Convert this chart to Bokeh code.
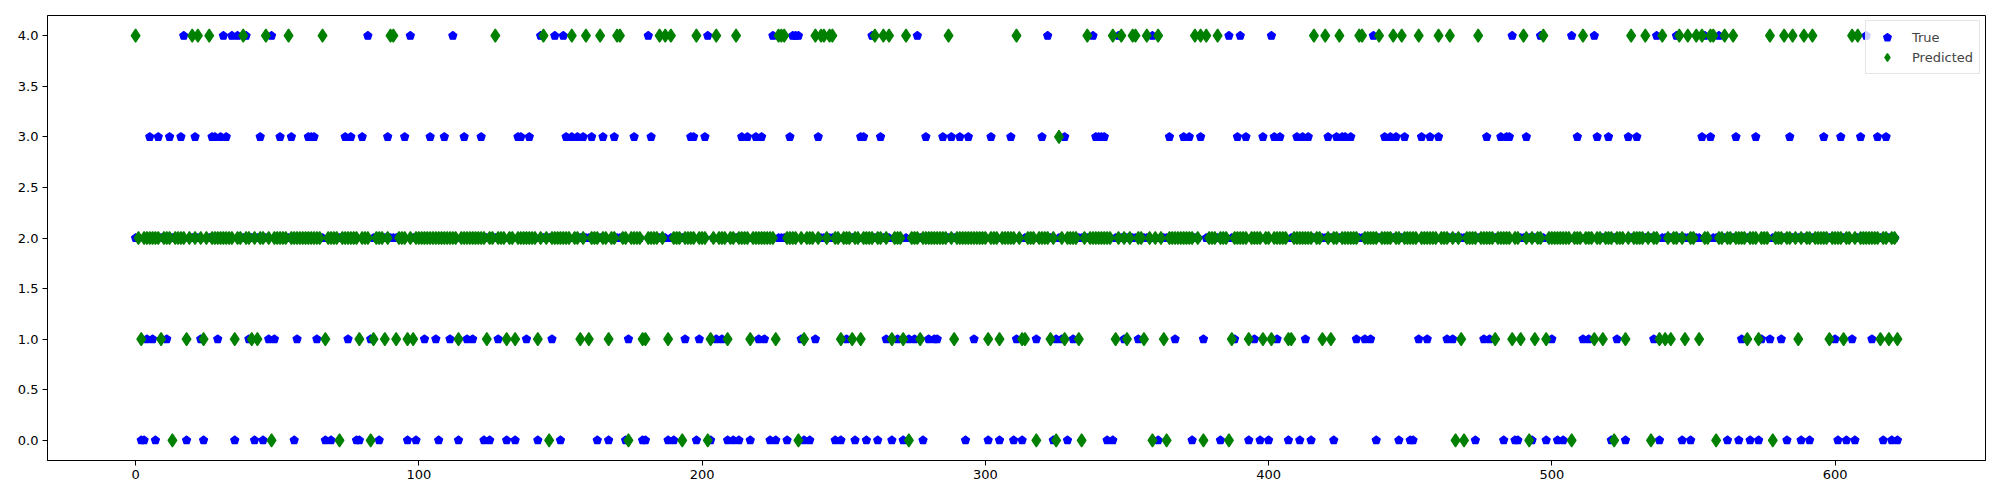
from bokeh.plotting import figure
from bokeh.models import Range1d, Legend, LegendItem, FixedTicker, ColumnDataSource, PrintfTickFormatter
from bokeh.embed import file_html
from bokeh.resources import INLINE

N = 623  # samples 0..622

# indices (sample number) per class; all others are class 2
true_class4 = [17, 31, 34, 36, 39, 48, 82, 97, 112, 143, 148, 151, 181,
               202, 225, 232, 233, 234, 260, 276, 322, 338, 347, 359, 386, 390, 401,
               437, 486, 496, 507, 515, 537, 544, 554, 559, 611]
true_class3 = [5, 8, 12, 16, 21, 27, 28, 30, 32, 44, 51, 55, 61, 62, 63, 74, 76, 80, 89, 95,
               104, 109, 116, 122, 135, 136, 139, 152, 154, 156, 158, 161, 165, 169, 176, 182,
               196, 197, 201, 214, 216, 219, 221, 231, 241, 256, 257, 263, 279, 285, 288, 291,
               294, 302, 309, 320, 328, 339, 340, 341, 342, 365, 370, 372, 376, 389, 392, 398,
               402, 404, 410, 412, 414, 421, 424, 426, 427, 429, 441, 443, 445, 448, 454, 457,
               460, 477, 482, 484, 485, 491, 509, 516, 520, 527, 530, 553, 556, 565, 572, 584,
               596, 602, 609, 615, 618]
true_class1 = [4, 6, 11, 23, 29, 40, 47, 49, 57, 64, 75, 83, 102, 106, 111, 117, 119, 128, 138,
               147, 174, 194, 199, 205, 207, 220, 222, 235, 240, 251, 265, 269, 273, 275, 280,
               282, 283, 296, 311, 318, 325, 327, 331, 349, 354, 367, 377, 388, 395, 403, 413,
               431, 434, 436, 453, 456, 463, 465, 476, 478, 500, 511, 513, 523, 536, 567, 574,
               577, 581, 600, 606, 613]
true_class0 = [2, 3, 7, 18, 24, 35, 42, 45, 56, 67, 69, 78, 79, 86, 96, 99, 107, 114, 123, 125,
               131, 134, 142, 150, 163, 167, 173, 179, 180, 188, 190, 198, 203, 209, 211, 213,
               217, 224, 226, 230, 236, 238, 247, 249, 254, 258, 262, 267, 271, 278, 293, 301,
               305, 310, 313, 324, 329, 343, 345, 361, 373, 383, 393, 397, 400, 407, 411, 415,
               423, 438, 446, 450, 451, 473, 483, 487, 488, 493, 498, 502, 504, 521, 526, 538,
               546, 549, 562, 566, 570, 573, 583, 588, 591, 601, 604, 607, 617, 620, 622]

pred_class4 = [0, 20, 22, 26, 38, 46, 54, 66, 90, 91, 127, 144, 154, 159, 164, 170, 171, 185,
               187, 189, 198, 205, 212, 227, 228, 229, 240, 242, 243, 245, 246, 261, 264, 266,
               272, 287, 311, 336, 345, 348, 352, 353, 357, 361, 374, 376, 378, 382, 416, 420,
               425, 432, 433, 439, 444, 447, 453, 460, 464, 474, 490, 497, 511, 528, 533, 539,
               545, 548, 551, 553, 556, 557, 561, 564, 577, 582, 585, 589, 592, 606, 608]
pred_class3 = [326]
pred_class1 = [2, 9, 18, 24, 35, 41, 43, 67, 79, 84, 88, 92, 96, 98, 114, 124, 131, 134, 142,
               157, 160, 167, 179, 180, 188, 203, 209, 217, 226, 236, 249, 253, 256, 267, 271,
               277, 289, 301, 305, 313, 314, 323, 328, 333, 346, 350, 356, 363, 387, 393, 398,
               401, 407, 408, 419, 422, 468, 480, 486, 489, 494, 498, 515, 518, 526, 538, 540,
               542, 547, 552, 569, 573, 587, 598, 603, 616, 619, 622]
pred_class0 = [13, 48, 72, 83, 146, 174, 193, 202, 234, 273, 318, 325, 334, 359, 364, 377, 386,
               466, 469, 492, 507, 522, 535, 558, 578]

x_ticks = [0, 100, 200, 300, 400, 500, 600]
y_ticks = [0.0, 0.5, 1.0, 1.5, 2.0, 2.5, 3.0, 3.5, 4.0]

true_vals = [2] * N
for cls, idxs in ((0, true_class0), (1, true_class1), (3, true_class3), (4, true_class4)):
    for i in idxs:
        true_vals[i] = cls
pred_vals = [2] * N
for cls, idxs in ((0, pred_class0), (1, pred_class1), (3, pred_class3), (4, pred_class4)):
    for i in idxs:
        pred_vals[i] = cls

idx = list(range(N))
src_true = ColumnDataSource(dict(x=idx, y=true_vals))
src_pred = ColumnDataSource(dict(x=idx, y=pred_vals))

p = figure(width=1998, height=498, output_backend="svg", toolbar_location=None,
           x_range=Range1d(-31.1, 653.1), y_range=Range1d(-0.2, 4.2),
           min_border_left=47, min_border_right=13, min_border_top=15, min_border_bottom=38)
p.background_fill_color = "white"
p.border_fill_color = "white"
p.outline_line_color = "black"
p.outline_line_width = 1
p.xgrid.visible = False
p.ygrid.visible = False

for ax in (p.xaxis, p.yaxis):
    ax.major_label_text_font = "DejaVu Sans"
    ax.major_label_text_font_size = "13px"
    ax.major_label_text_color = "black"
    ax.major_tick_out = 5
    ax.major_tick_in = 0
    ax.minor_tick_out = 0
    ax.minor_tick_in = 0
    ax.axis_line_color = "black"
    ax.major_tick_line_color = "black"
    ax.major_label_standoff = 4
p.xaxis.ticker = FixedTicker(ticks=x_ticks)
p.yaxis.ticker = FixedTicker(ticks=y_ticks)
p.yaxis.formatter = PrintfTickFormatter(format="%.1f")

r_true = p.ngon(x="x", y="y", radius=4.2, radius_units="screen", n=5, source=src_true,
                fill_color="blue", line_color="blue", line_width=1.3)
r_pred = p.scatter(x="x", y="y", marker="diamond", size=13, source=src_pred,
                   fill_color="green", line_color="green", line_width=1.3)

legend = Legend(items=[LegendItem(label="True", renderers=[r_true]),
                       LegendItem(label="Predicted", renderers=[r_pred])],
                location="top_right", margin=5, padding=6, spacing=0,
                glyph_width=30, glyph_height=20, label_standoff=10,
                label_text_font="DejaVu Sans", label_text_font_size="13px",
                border_line_color="#cccccc", background_fill_alpha=0.8)
p.add_layout(legend)

open("out.html", "w").write(file_html(p, INLINE))
